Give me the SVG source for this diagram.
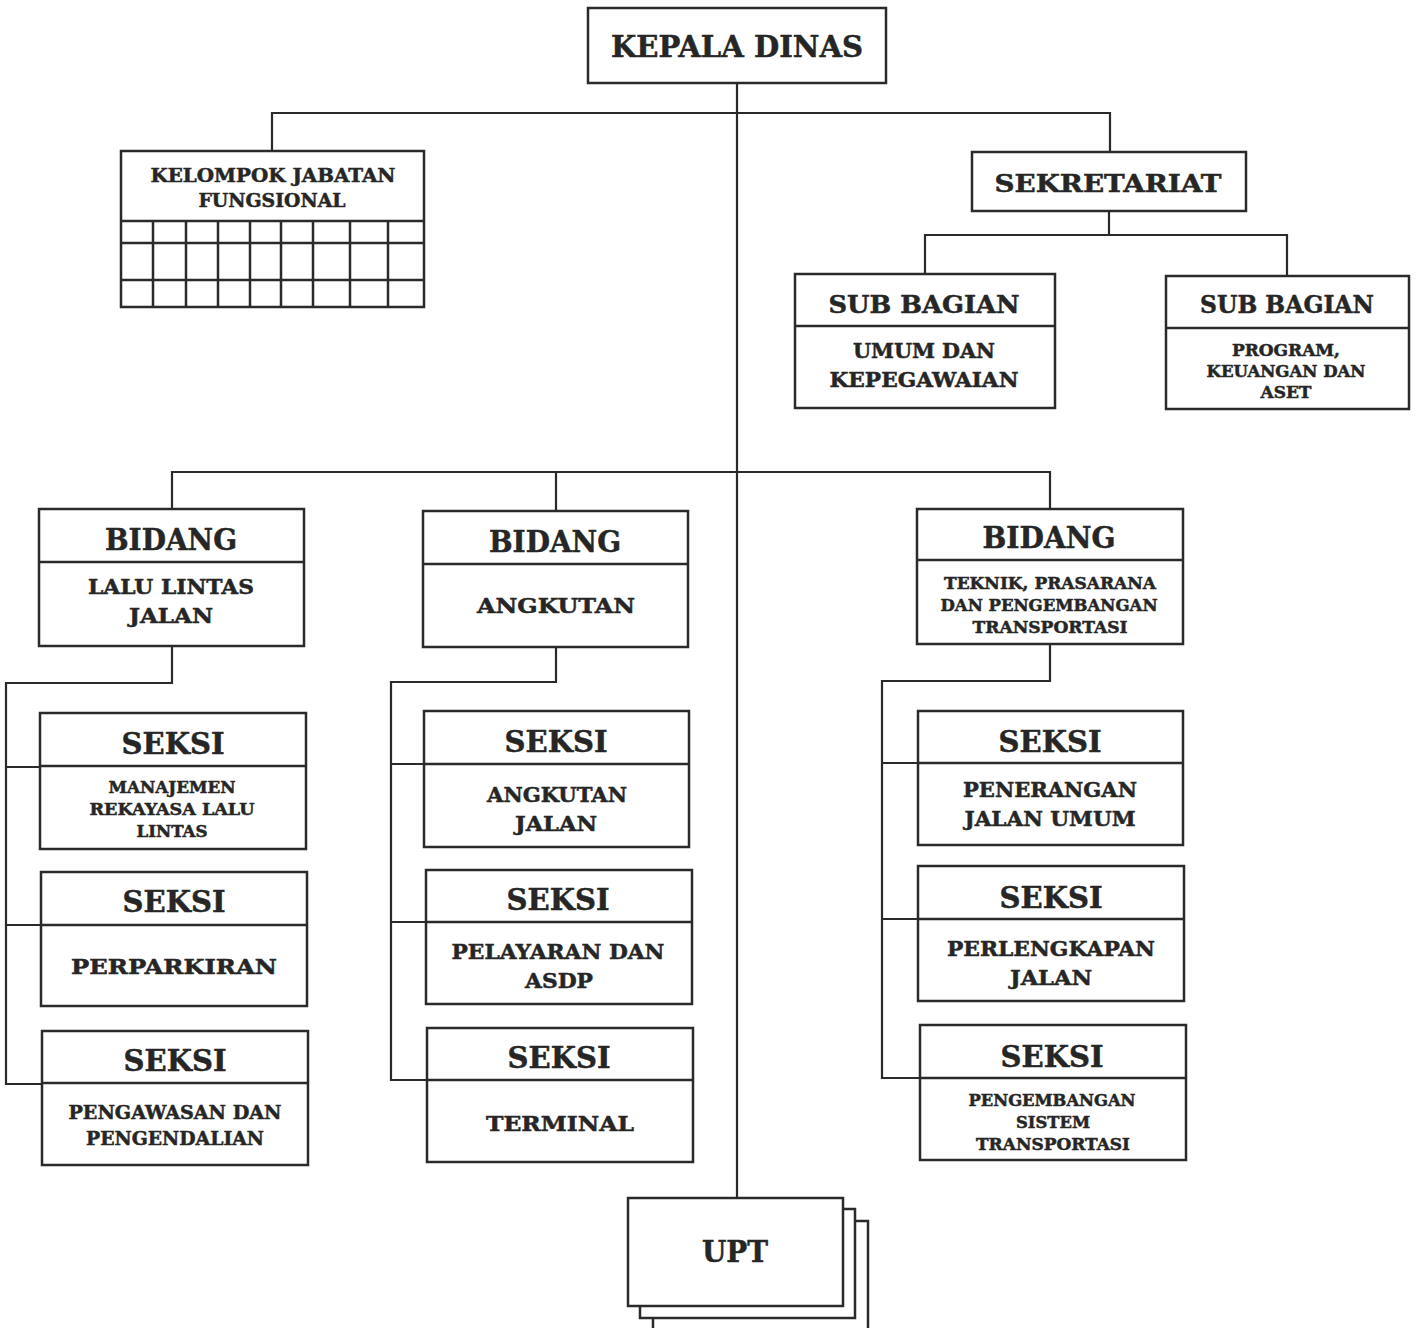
<svg xmlns="http://www.w3.org/2000/svg" width="1416" height="1328" viewBox="0 0 1416 1328">
<style>
.b{fill:#fff;stroke:#2a2a2a;stroke-width:2.5}
.d{stroke:#2a2a2a;stroke-width:2.5;fill:none}
.c{stroke:#2a2a2a;stroke-width:2.2;fill:none}
text{font-family:"DejaVu Serif","Liberation Serif",serif;font-weight:bold;fill:#262626;stroke:#262626;stroke-width:0.5;text-anchor:middle}
.t1{font-size:29px}
.t2{font-size:25px}
.t3{font-size:21px}
.t4{font-size:16px}
.t5{font-size:18px}
</style>
<rect width="1416" height="1328" fill="#fff"/>
<g id="connectors">
<path class="c" d="M737 83V1198"/>
<path class="c" d="M272 151V113H1110V152"/>
<path class="c" d="M1109 211V235M925 274V235H1287V276"/>
<path class="c" d="M172 509V472H1050V509M556 472V511"/>
<path class="c" d="M172 646V683H6V1084H42M6 767H40M6 925H41"/>
<path class="c" d="M556 647V682H391V1080H427M391 764H424M391 922H426"/>
<path class="c" d="M1050 644V681H882V1078H920M882 763H918M882 919H918"/>
</g>
<g id="kepala-dinas">
<rect class="b" x="588" y="8" width="298" height="75"/>
<text class="t1" x="737" y="57" textLength="252" lengthAdjust="spacingAndGlyphs">KEPALA DINAS</text>
</g>
<g id="kelompok-jabatan-fungsional">
<rect class="b" x="121" y="151" width="303" height="156"/>
<path class="d" d="M121 221H424M121 243H424M121 280H424M153 221V307M186 221V307M218 221V307M250 221V307M281 221V307M313 221V307M350 221V307M388 221V307"/>
<text class="t5" x="273" y="182" textLength="245" lengthAdjust="spacingAndGlyphs">KELOMPOK JABATAN</text>
<text class="t5" x="272" y="207" textLength="147" lengthAdjust="spacingAndGlyphs">FUNGSIONAL</text>
</g>
<g id="sekretariat">
<rect class="b" x="972" y="152" width="274" height="59"/>
<text class="t2" x="1108" y="192" textLength="227" lengthAdjust="spacingAndGlyphs">SEKRETARIAT</text>
</g>
<g id="subbag-umum">
<rect class="b" x="795" y="274" width="260" height="134"/>
<path class="d" d="M795 326H1055"/>
<text class="t2" x="924" y="313" textLength="191" lengthAdjust="spacingAndGlyphs">SUB BAGIAN</text>
<text class="t3" x="924" y="358" textLength="142" lengthAdjust="spacingAndGlyphs">UMUM DAN</text>
<text class="t3" x="924" y="387" textLength="189" lengthAdjust="spacingAndGlyphs">KEPEGAWAIAN</text>
</g>
<g id="subbag-program">
<rect class="b" x="1166" y="276" width="243" height="133"/>
<path class="d" d="M1166 328H1409"/>
<text class="t2" x="1287" y="313" textLength="174" lengthAdjust="spacingAndGlyphs">SUB BAGIAN</text>
<text class="t4" x="1286" y="356" textLength="108" lengthAdjust="spacingAndGlyphs">PROGRAM,</text>
<text class="t4" x="1286" y="377" textLength="159" lengthAdjust="spacingAndGlyphs">KEUANGAN DAN</text>
<text class="t4" x="1286" y="398" textLength="51" lengthAdjust="spacingAndGlyphs">ASET</text>
</g>
<g id="bidang-lalu-lintas">
<rect class="b" x="39" y="509" width="265" height="137"/>
<path class="d" d="M39 562H304"/>
<text class="t1" x="171" y="550" textLength="132" lengthAdjust="spacingAndGlyphs">BIDANG</text>
<text class="t3" x="171" y="594" textLength="166" lengthAdjust="spacingAndGlyphs">LALU LINTAS</text>
<text class="t3" x="171" y="623" textLength="84" lengthAdjust="spacingAndGlyphs">JALAN</text>
</g>
<g id="bidang-angkutan">
<rect class="b" x="423" y="511" width="265" height="136"/>
<path class="d" d="M423 564H688"/>
<text class="t1" x="555" y="552" textLength="132" lengthAdjust="spacingAndGlyphs">BIDANG</text>
<text class="t3" x="556" y="613" textLength="158" lengthAdjust="spacingAndGlyphs">ANGKUTAN</text>
</g>
<g id="bidang-teknik">
<rect class="b" x="917" y="509" width="266" height="135"/>
<path class="d" d="M917 560H1183"/>
<text class="t1" x="1049" y="548" textLength="133" lengthAdjust="spacingAndGlyphs">BIDANG</text>
<text class="t4" x="1050" y="589" textLength="212" lengthAdjust="spacingAndGlyphs">TEKNIK, PRASARANA</text>
<text class="t4" x="1049" y="611" textLength="217" lengthAdjust="spacingAndGlyphs">DAN PENGEMBANGAN</text>
<text class="t4" x="1050" y="633" textLength="155" lengthAdjust="spacingAndGlyphs">TRANSPORTASI</text>
</g>
<g id="seksi-manajemen">
<rect class="b" x="40" y="713" width="266" height="136"/>
<path class="d" d="M40 766H306"/>
<text class="t1" x="173" y="754" textLength="103" lengthAdjust="spacingAndGlyphs">SEKSI</text>
<text class="t4" x="172" y="793" textLength="127" lengthAdjust="spacingAndGlyphs">MANAJEMEN</text>
<text class="t4" x="172" y="815" textLength="165" lengthAdjust="spacingAndGlyphs">REKAYASA LALU</text>
<text class="t4" x="172" y="837" textLength="71" lengthAdjust="spacingAndGlyphs">LINTAS</text>
</g>
<g id="seksi-perparkiran">
<rect class="b" x="41" y="872" width="266" height="134"/>
<path class="d" d="M41 925H307"/>
<text class="t1" x="174" y="912" textLength="103" lengthAdjust="spacingAndGlyphs">SEKSI</text>
<text class="t3" x="174" y="974" textLength="206" lengthAdjust="spacingAndGlyphs">PERPARKIRAN</text>
</g>
<g id="seksi-pengawasan">
<rect class="b" x="42" y="1031" width="266" height="134"/>
<path class="d" d="M42 1083H308"/>
<text class="t1" x="175" y="1071" textLength="103" lengthAdjust="spacingAndGlyphs">SEKSI</text>
<text class="t5" x="175" y="1119" textLength="213" lengthAdjust="spacingAndGlyphs">PENGAWASAN DAN</text>
<text class="t5" x="175" y="1145" textLength="178" lengthAdjust="spacingAndGlyphs">PENGENDALIAN</text>
</g>
<g id="seksi-angkutan-jalan">
<rect class="b" x="424" y="711" width="265" height="136"/>
<path class="d" d="M424 764H689"/>
<text class="t1" x="556" y="752" textLength="103" lengthAdjust="spacingAndGlyphs">SEKSI</text>
<text class="t3" x="557" y="802" textLength="140" lengthAdjust="spacingAndGlyphs">ANGKUTAN</text>
<text class="t3" x="556" y="831" textLength="82" lengthAdjust="spacingAndGlyphs">JALAN</text>
</g>
<g id="seksi-pelayaran">
<rect class="b" x="426" y="870" width="266" height="134"/>
<path class="d" d="M426 922H692"/>
<text class="t1" x="558" y="910" textLength="103" lengthAdjust="spacingAndGlyphs">SEKSI</text>
<text class="t3" x="558" y="959" textLength="213" lengthAdjust="spacingAndGlyphs">PELAYARAN DAN</text>
<text class="t3" x="559" y="988" textLength="68" lengthAdjust="spacingAndGlyphs">ASDP</text>
</g>
<g id="seksi-terminal">
<rect class="b" x="427" y="1028" width="266" height="134"/>
<path class="d" d="M427 1080H693"/>
<text class="t1" x="559" y="1068" textLength="103" lengthAdjust="spacingAndGlyphs">SEKSI</text>
<text class="t3" x="560" y="1131" textLength="148" lengthAdjust="spacingAndGlyphs">TERMINAL</text>
</g>
<g id="seksi-penerangan">
<rect class="b" x="918" y="711" width="265" height="134"/>
<path class="d" d="M918 763H1183"/>
<text class="t1" x="1050" y="752" textLength="103" lengthAdjust="spacingAndGlyphs">SEKSI</text>
<text class="t3" x="1050" y="797" textLength="174" lengthAdjust="spacingAndGlyphs">PENERANGAN</text>
<text class="t3" x="1050" y="826" textLength="171" lengthAdjust="spacingAndGlyphs">JALAN UMUM</text>
</g>
<g id="seksi-perlengkapan">
<rect class="b" x="918" y="866" width="266" height="135"/>
<path class="d" d="M918 919H1184"/>
<text class="t1" x="1051" y="908" textLength="103" lengthAdjust="spacingAndGlyphs">SEKSI</text>
<text class="t3" x="1051" y="956" textLength="208" lengthAdjust="spacingAndGlyphs">PERLENGKAPAN</text>
<text class="t3" x="1051" y="985" textLength="82" lengthAdjust="spacingAndGlyphs">JALAN</text>
</g>
<g id="seksi-pengembangan">
<rect class="b" x="920" y="1025" width="266" height="135"/>
<path class="d" d="M920 1078H1186"/>
<text class="t1" x="1052" y="1067" textLength="103" lengthAdjust="spacingAndGlyphs">SEKSI</text>
<text class="t4" x="1052" y="1106" textLength="167" lengthAdjust="spacingAndGlyphs">PENGEMBANGAN</text>
<text class="t4" x="1053" y="1128" textLength="74" lengthAdjust="spacingAndGlyphs">SISTEM</text>
<text class="t4" x="1053" y="1150" textLength="154" lengthAdjust="spacingAndGlyphs">TRANSPORTASI</text>
</g>
<g id="upt">
<rect class="b" x="653" y="1221" width="215" height="120"/>
<rect class="b" x="640" y="1209" width="215" height="109"/>
<rect class="b" x="628" y="1198" width="215" height="108"/>
<text class="t1" x="735" y="1262" textLength="66" lengthAdjust="spacingAndGlyphs">UPT</text>
</g>
</svg>
